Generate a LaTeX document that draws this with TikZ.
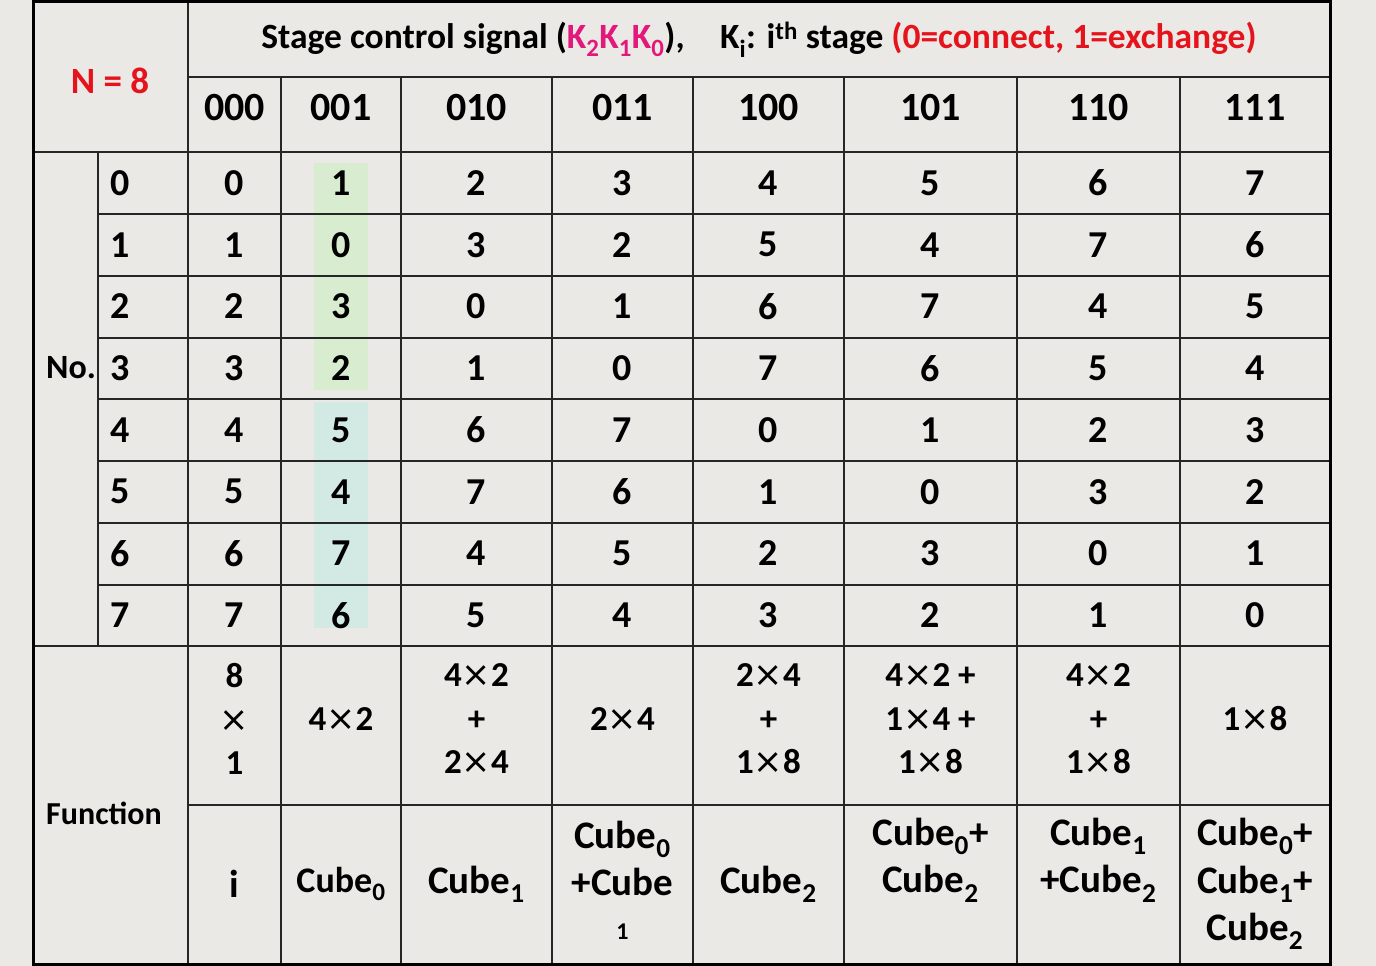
\documentclass[tikz,border=0pt]{standalone}
\usepackage{fontspec}
\setmainfont{Carlito}
\newfontfamily\symfont{DejaVu Sans}
\definecolor{pagegray}{HTML}{EBE9E6}
\definecolor{hlgreen}{HTML}{D8ECD0}
\definecolor{hlblue}{HTML}{D3E9E3}
\definecolor{kred}{HTML}{E5131C}
\definecolor{kmag}{HTML}{E2187B}
\newcommand{\lowsub}[1]{\textsubscript{#1}}
\newcommand{\tms}{{\symfont\mdseries ×}}
\begin{document}
\begin{tikzpicture}[x=1pt,y=-1pt,
  rule/.style={line width=1.5pt,black!85},
  cell/.style={inner sep=0pt,font=\fontsize{38}{44}\selectfont\bfseries},
  hdcell/.style={inner sep=0pt,font=\fontsize{40}{44}\selectfont\bfseries},
  fncell/.style={inner sep=0pt,align=center,font=\fontsize{35}{43.5}\selectfont\bfseries},
  cbcell/.style={inner sep=0pt,align=center,font=\fontsize{39}{47.5}\selectfont\bfseries}]
\useasboundingbox (0,0) rectangle (1376,966);
\fill[pagegray] (0,0) rectangle (1376,966);
\fill[hlgreen] (314,163) rectangle (368,390);
\fill[hlblue] (314,402) rectangle (368,628);
    \draw[rule] (188,77) -- (1330,77);
    \foreach \y in {152,646} \draw[rule] (33,\y) -- (1330,\y);
    \foreach \y in {214,276,338,399,461,523,585} \draw[rule] (98,\y) -- (1330,\y);
    \draw[rule] (188,805) -- (1330,805);
    \draw[rule] (98,152) -- (98,646);
    \draw[rule] (188,2) -- (188,964);
    \foreach \x in {281,401,552,693,844,1017,1180} \draw[rule] (\x,77) -- (\x,964);
    \draw[line width=3pt] (33,2) rectangle (1330,964.5);
\node[inner sep=0pt,text=kred,font=\fontsize{37}{40}\selectfont\bfseries] (nsize) at (110,81) {N = 8};
\node[inner sep=0pt,font=\fontsize{35.5}{40}\selectfont\bfseries] (title) at (759,40)
  {Stage control signal (\textcolor{kmag}{K\lowsub{2}K\lowsub{1}K\lowsub{0}}),\quad K\lowsub{i}: i\textsuperscript{th} stage \textcolor{kred}{(0=connect, 1=exchange)}};
\node[cell,anchor=west,font=\fontsize{34}{40}\selectfont\bfseries] (no) at (46,368) {No.};
\node[cell,anchor=west,font=\fontsize{32}{40}\selectfont\bfseries] (func) at (46,813) {Function};
    \foreach \r in {0,...,7}
    \node[cell,anchor=west] (no\r) at (110,{183+61.75*\r}) {\r};
    \foreach \xc/\hd/\vals [count=\k from 0] in {234.5/000/{0,1,2,3,4,5,6,7},341/001/{1,0,3,2,5,4,7,6},
      476.5/010/{2,3,0,1,6,7,4,5},622.5/011/{3,2,1,0,7,6,5,4},768.5/100/{4,5,6,7,0,1,2,3},
      930.5/101/{5,4,7,6,1,0,3,2},1098.5/110/{6,7,4,5,2,3,0,1},1255/111/{7,6,5,4,3,2,1,0}}{
    \node[hdcell] (hd\k) at (\xc,108) {\hd};
    \foreach \v [count=\r from 0] in \vals
    \node[cell] (v\k\r) at (\xc,{183+61.75*\r}) {\v};
    }
    \foreach \xc/\txt [count=\k from 0] in {234.5/{8\\\tms\\1},341/{4\tms2},476.5/{4\tms2\\+\\2\tms4},622.5/{2\tms4},
      768.5/{2\tms4\\+\\1\tms8},930.5/{4\tms2 +\\1\tms4 +\\1\tms8},1098.5/{4\tms2\\+\\1\tms8},1255/{1\tms8}}
    \node[fncell] (fn\k) at (\xc,719) {\txt};
    \foreach \xc/\yc/\txt [count=\k from 0] in {234.5/884/{i},341/884/{\fontsize{36}{44}\selectfont Cube\lowsub{0}},
      476.5/884/{Cube\lowsub{1}},622.5/880/{Cube\lowsub{0}\\+Cube\\[-4pt]{\fontsize{24}{24}\selectfont 1}},
      768.5/884/{Cube\lowsub{2}},930.5/860/{Cube\lowsub{0}+\\Cube\lowsub{2}},1098.5/860/{Cube\lowsub{1}\\+Cube\lowsub{2}},
      1255/884/{Cube\lowsub{0}+\\Cube\lowsub{1}+\\Cube\lowsub{2}}}
    \node[cbcell] (cb\k) at (\xc,\yc) {\txt};
\end{tikzpicture}
\end{document}
